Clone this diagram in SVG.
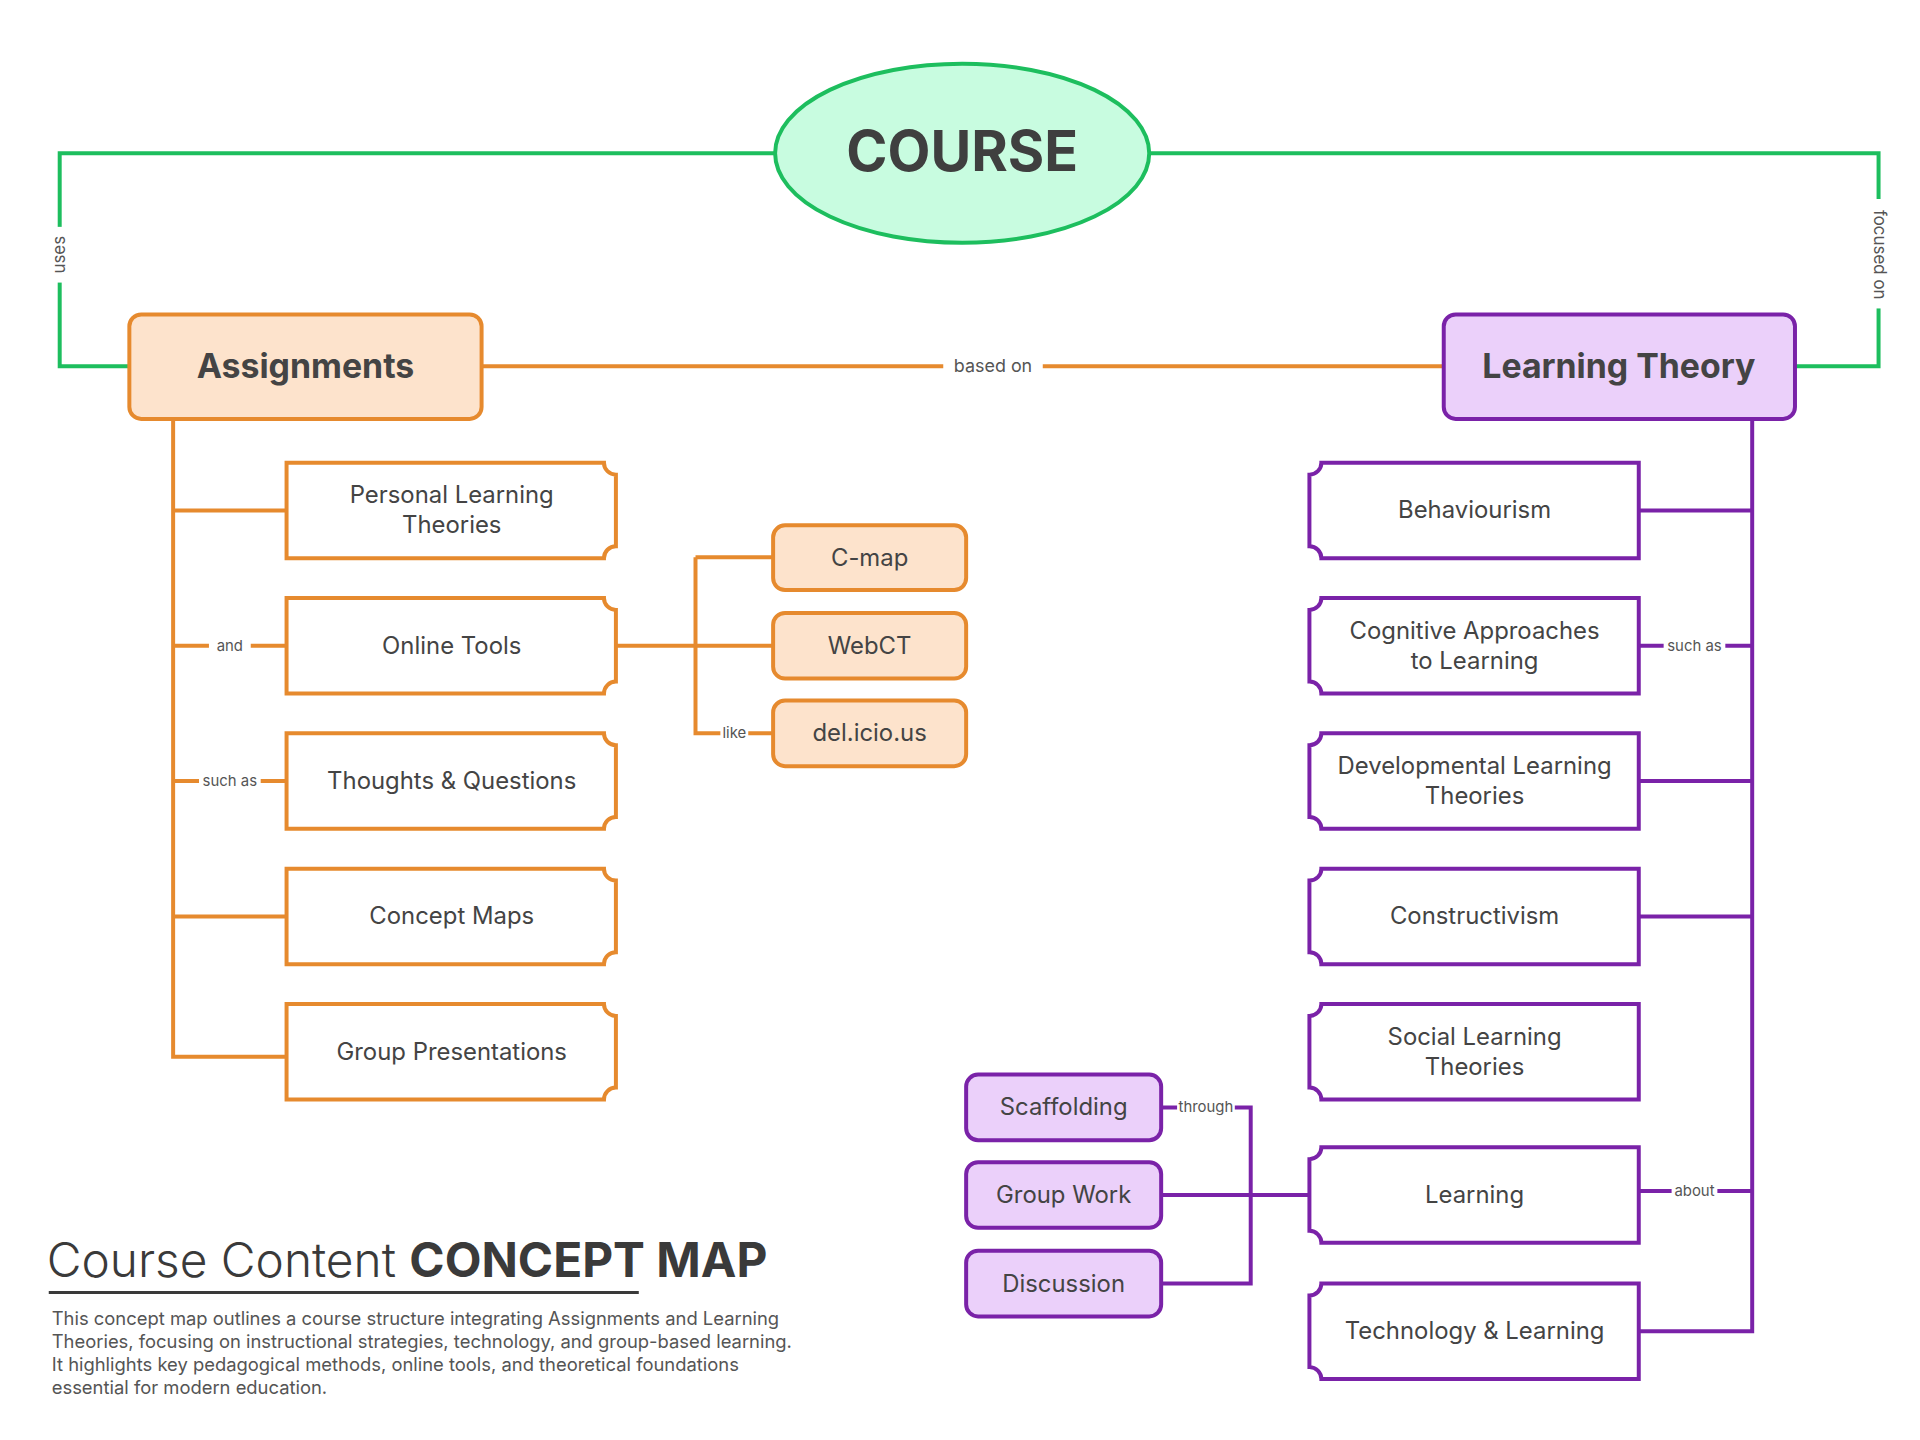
<svg xmlns="http://www.w3.org/2000/svg" width="1920" height="1440" viewBox="0 0 1920 1440">
<style>
.o{fill:none;stroke:#E68A2E;stroke-width:4}
.p{fill:none;stroke:#7A22A8;stroke-width:4}
.g{fill:none;stroke:#1DBE5E;stroke-width:4}
.ob{fill:#fff;stroke:#E68A2E;stroke-width:4}
.pb{fill:#fff;stroke:#7A22A8;stroke-width:4}
.of{fill:#FDE3CC;stroke:#E68A2E;stroke-width:4}
.pf{fill:#EBD0FA;stroke:#7A22A8;stroke-width:4}
text{font-family:Inter,"Liberation Sans",sans-serif;fill:#444}
.t{font-size:24px;text-anchor:middle}
.l{font-size:15px;text-anchor:middle;fill:#555}
.lb{fill:#fff}
.h{font-size:34px;font-weight:bold;text-anchor:middle}
.d{font-size:18.5px;fill:#555}
</style>
<g transform="scale(0.995)">
<g id="connectors">
<path class="g" d="M785,154 H60 V368 H130"/>
<path class="g" d="M1150,154 H1888 V368 H1804"/>
<rect class="lb" x="50" y="228" width="20" height="56"/>
<text class="l" transform="translate(60,256) rotate(-90)" dy="5" style="font-size:17px">uses</text>
<rect class="lb" x="1878" y="200" width="20" height="110"/>
<text class="l" transform="translate(1888,256) rotate(90)" dy="5" style="font-size:17px">focused on</text>
<path class="o" d="M484,368 H1451"/>
<rect class="lb" x="948" y="355" width="100" height="26"/>
<text class="l" x="998" y="374" style="font-size:18px">based on</text>
<path class="o" d="M174,421 V1062 H288 M174,513 H288 M174,649 H288 M174,785 H288 M174,921 H288"/>
<rect class="lb" x="210" y="640" width="42" height="18"/>
<text class="l" x="231" y="654">and</text>
<rect class="lb" x="200" y="776" width="62" height="18"/>
<text class="l" x="231" y="790">such as</text>
<path class="o" d="M619,649 H777 M699,560 V737 H777 M699,560 H777"/>
<rect class="lb" x="724" y="728" width="28" height="18"/>
<text class="l" x="738" y="742">like</text>
<path class="p" d="M1761,421 V1338 H1647 M1647,513 H1761 M1647,649 H1761 M1647,785 H1761 M1647,921 H1761 M1647,1197 H1761"/>
<rect class="lb" x="1672" y="640" width="62" height="18"/>
<text class="l" x="1703" y="654">such as</text>
<rect class="lb" x="1680" y="1188" width="46" height="18"/>
<text class="l" x="1703" y="1202">about</text>
<path class="p" d="M1167,1113 H1257 V1290 H1167 M1167,1201 H1316"/>
<rect class="lb" x="1183" y="1104" width="58" height="18"/>
<text class="l" x="1212" y="1118">through</text>
</g>
<g id="course">
<ellipse cx="967" cy="154" rx="188" ry="90" fill="#C8FCE0" stroke="#1DBE5E" stroke-width="4"/>
<text x="967" y="172" text-anchor="middle" style="font-size:56px;font-weight:bold;fill:#3f3f3f">COURSE</text>
</g>
<g id="assignments">
<rect class="of" x="130" y="316" width="354" height="105" rx="12"/>
<text class="h" x="307" y="380">Assignments</text>
</g>
<g id="learning-theory">
<rect class="pf" x="1451" y="316" width="353" height="105" rx="12"/>
<text class="h" x="1627" y="380">Learning Theory</text>
</g>
<g id="personal-learning-theories">
<path class="ob" d="M288,465 H607 A12,12 0 0 0 619,477 V549 A12,12 0 0 0 607,561 H288 Z"/>
<text class="t" x="454" y="506">Personal Learning</text><text class="t" x="454" y="536">Theories</text>
</g>
<g id="online-tools">
<path class="ob" d="M288,601 H607 A12,12 0 0 0 619,613 V685 A12,12 0 0 0 607,697 H288 Z"/>
<text class="t" x="454" y="657">Online Tools</text>
</g>
<g id="thoughts-questions">
<path class="ob" d="M288,737 H607 A12,12 0 0 0 619,749 V821 A12,12 0 0 0 607,833 H288 Z"/>
<text class="t" x="454" y="793">Thoughts &amp; Questions</text>
</g>
<g id="concept-maps">
<path class="ob" d="M288,873 H607 A12,12 0 0 0 619,885 V957 A12,12 0 0 0 607,969 H288 Z"/>
<text class="t" x="454" y="929">Concept Maps</text>
</g>
<g id="group-presentations">
<path class="ob" d="M288,1009 H607 A12,12 0 0 0 619,1021 V1093 A12,12 0 0 0 607,1105 H288 Z"/>
<text class="t" x="454" y="1065">Group Presentations</text>
</g>
<g id="c-map"><rect class="of" x="777" y="528" width="194" height="65" rx="12"/><text class="t" x="874" y="569">C-map</text></g>
<g id="webct"><rect class="of" x="777" y="616" width="194" height="66" rx="12"/><text class="t" x="874" y="657">WebCT</text></g>
<g id="delicious"><rect class="of" x="777" y="704" width="194" height="66" rx="12"/><text class="t" x="874" y="745">del.icio.us</text></g>
<g id="behaviourism">
<path class="pb" d="M1647,465 H1328 A12,12 0 0 1 1316,477 V549 A12,12 0 0 1 1328,561 H1647 Z"/>
<text class="t" x="1482" y="521">Behaviourism</text>
</g>
<g id="cognitive">
<path class="pb" d="M1647,601 H1328 A12,12 0 0 1 1316,613 V685 A12,12 0 0 1 1328,697 H1647 Z"/>
<text class="t" x="1482" y="642">Cognitive Approaches</text><text class="t" x="1482" y="672">to Learning</text>
</g>
<g id="developmental">
<path class="pb" d="M1647,737 H1328 A12,12 0 0 1 1316,749 V821 A12,12 0 0 1 1328,833 H1647 Z"/>
<text class="t" x="1482" y="778">Developmental Learning</text><text class="t" x="1482" y="808">Theories</text>
</g>
<g id="constructivism">
<path class="pb" d="M1647,873 H1328 A12,12 0 0 1 1316,885 V957 A12,12 0 0 1 1328,969 H1647 Z"/>
<text class="t" x="1482" y="929">Constructivism</text>
</g>
<g id="social">
<path class="pb" d="M1647,1009 H1328 A12,12 0 0 1 1316,1021 V1093 A12,12 0 0 1 1328,1105 H1647 Z"/>
<text class="t" x="1482" y="1050">Social Learning</text><text class="t" x="1482" y="1080">Theories</text>
</g>
<g id="learning">
<path class="pb" d="M1647,1153 H1328 A12,12 0 0 1 1316,1165 V1237 A12,12 0 0 1 1328,1249 H1647 Z"/>
<text class="t" x="1482" y="1209">Learning</text>
</g>
<g id="technology-learning">
<path class="pb" d="M1647,1290 H1328 A12,12 0 0 1 1316,1302 V1374 A12,12 0 0 1 1328,1386 H1647 Z"/>
<text class="t" x="1482" y="1346">Technology &amp; Learning</text>
</g>
<g id="scaffolding"><rect class="pf" x="971" y="1080" width="196" height="66" rx="12"/><text class="t" x="1069" y="1121">Scaffolding</text></g>
<g id="group-work"><rect class="pf" x="971" y="1168" width="196" height="66" rx="12"/><text class="t" x="1069" y="1209">Group Work</text></g>
<g id="discussion"><rect class="pf" x="971" y="1257" width="196" height="66" rx="12"/><text class="t" x="1069" y="1298">Discussion</text></g>
<g id="title">
<text x="47" y="1283" style="font-size:48px;font-weight:300;fill:#3a3a3a">Course Content <tspan style="font-weight:bold">CONCEPT MAP</tspan></text>
<path d="M49,1299 H642" stroke="#3a3a3a" stroke-width="3"/>
<text class="d" x="52" y="1332">This concept map outlines a course structure integrating Assignments and Learning</text>
<text class="d" x="52" y="1355">Theories, focusing on instructional strategies, technology, and group-based learning.</text>
<text class="d" x="52" y="1378">It highlights key pedagogical methods, online tools, and theoretical foundations</text>
<text class="d" x="52" y="1401">essential for modern education.</text>
</g>
</g>
</svg>
